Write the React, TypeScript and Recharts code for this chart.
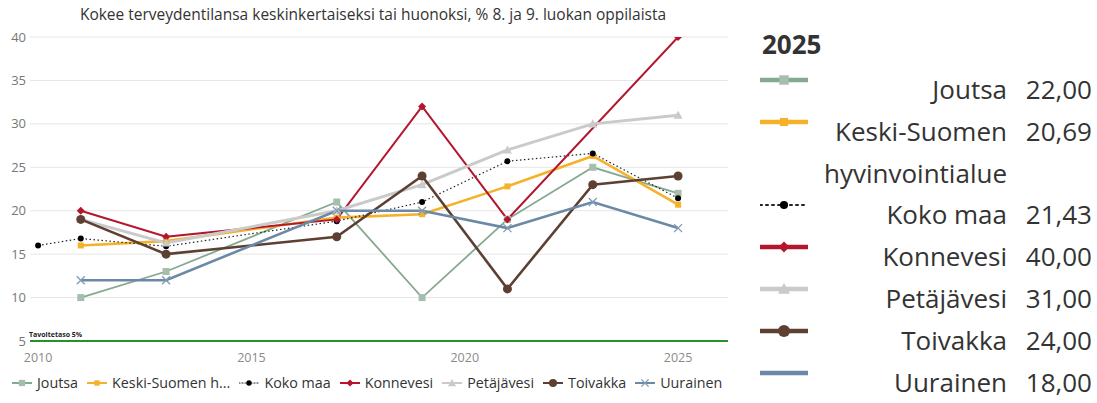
import * as React from "react";
import { LineChart, Line, XAxis, YAxis, CartesianGrid, ReferenceLine } from "recharts";

// vuodet ja sarjat
const YEARS = [2010, 2011, 2013, 2017, 2019, 2021, 2023, 2025];
const JOUTSA = [null, 10, 13, 21, 10, 19, 25, 22];
const KESKI_SUOMI = [null, 16, 16.5, 19.2, 19.6, 22.8, 26.3, 20.69];
const KOKO_MAA = [16, 16.8, 15.9, 18.8, 21, 25.7, 26.6, 21.43];
const KONNEVESI = [null, 20, 17, 19, 32, 19, null, 40];
const PETAJAVESI = [null, 19, 16.3, 20, 23, 27, 30, 31];
const TOIVAKKA = [null, 19, 15, 17, 24, 11, 23, 24];
const UURAINEN = [null, 12, 12, 20, 20, 18, 21, 18];

const X_TICKS = [2010, 2015, 2020, 2025];
const Y_TICKS = [5, 10, 15, 20, 25, 30, 35, 40];
const TITLE = "Kokee terveydentilansa keskinkertaiseksi tai huonoksi, % 8. ja 9. luokan oppilaista";
const TARGET = 5;
const TARGET_LABEL = "Tavoitetaso 5%";
const CARD_YEAR = "2025";

const FONT = "'Open Sans', sans-serif";
const TEXT = "#333333";

type Mark = "square" | "circle" | "diamond" | "triangle" | "cross";

const SERIES: {
  name: string;
  short: string;
  values: (number | null)[];
  color: string;
  markColor: string;
  mark: Mark;
  size: number;
  width: number;
  dash?: string;
}[] = [
  { name: "Joutsa", short: "Joutsa", values: JOUTSA, color: "#86A891", markColor: "#A6BFAD", mark: "square", size: 7, width: 1.8 },
  { name: "Keski-Suomen hyvinvointialue", short: "Keski-Suomen h...", values: KESKI_SUOMI, color: "#F5B12A", markColor: "#F5B12A", mark: "square", size: 6, width: 2.6 },
  { name: "Koko maa", short: "Koko maa", values: KOKO_MAA, color: "#222222", markColor: "#000000", mark: "circle", size: 6, width: 1.2, dash: "1.5 2.5" },
  { name: "Konnevesi", short: "Konnevesi", values: KONNEVESI, color: "#B3172E", markColor: "#B3172E", mark: "diamond", size: 8, width: 2 },
  { name: "Petäjävesi", short: "Petäjävesi", values: PETAJAVESI, color: "#CACACA", markColor: "#CACACA", mark: "triangle", size: 9, width: 3 },
  { name: "Toivakka", short: "Toivakka", values: TOIVAKKA, color: "#5E4033", markColor: "#5E4033", mark: "circle", size: 9, width: 2.6 },
  { name: "Uurainen", short: "Uurainen", values: UURAINEN, color: "#6B89A6", markColor: "#7F9BB5", mark: "cross", size: 8, width: 2.6 },
];

const data = YEARS.map((year, i) => {
  const row: Record<string, number | null> = { year };
  SERIES.forEach((s) => (row[s.name] = s.values[i]));
  return row;
});

function Marker({ mark, x, y, size, color }: { mark: Mark; x: number; y: number; size: number; color: string }) {
  const h = size / 2;
  if (mark === "square") return <rect x={x - h} y={y - h} width={size} height={size} fill={color} />;
  if (mark === "circle") return <circle cx={x} cy={y} r={h} fill={color} />;
  if (mark === "diamond")
    return <polygon points={`${x},${y - h} ${x + h},${y} ${x},${y + h} ${x - h},${y}`} fill={color} />;
  if (mark === "triangle")
    return <polygon points={`${x},${y - h} ${x + h},${y + h * 0.8} ${x - h},${y + h * 0.8}`} fill={color} />;
  return (
    <g stroke={color} strokeWidth={1.3}>
      <line x1={x - h} y1={y - h} x2={x + h} y2={y + h} />
      <line x1={x - h} y1={y + h} x2={x + h} y2={y - h} />
    </g>
  );
}

const makeDot = (s: (typeof SERIES)[number]) => (p: any) => {
  if (p.cx == null || p.cy == null || p.value == null) return <g key={p.key} />;
  return (
    <g key={p.key}>
      <Marker mark={s.mark} x={p.cx} y={p.cy} size={s.size} color={s.markColor} />
    </g>
  );
};

function LegendIcon({ s, w, h, big }: { s: (typeof SERIES)[number]; w: number; h: number; big?: boolean }) {
  const lw = big ? (s.dash ? 2 : 4.5) : s.dash ? 1.2 : 2;
  return (
    <svg width={w} height={h} style={{ display: "block" }}>
      <line
        x1={0}
        y1={h / 2}
        x2={w}
        y2={h / 2}
        stroke={s.color}
        strokeWidth={lw}
        strokeDasharray={s.dash ? (big ? "2 4" : "1 2") : undefined}
        strokeLinecap="round"
      />
      {!(big && s.mark === "cross") && (
        <Marker mark={s.mark} x={w / 2} y={h / 2} size={big ? s.size * 1.35 : s.size * 0.9} color={s.markColor} />
      )}
    </svg>
  );
}

const fmt = (v: number | null) => (v == null ? "" : v.toFixed(2).replace(".", ","));

export default function App() {
  return (
    <div style={{ position: "absolute", left: 0, top: 0, width: 1097, height: 403, background: "#fff", fontFamily: FONT }}>
      <div style={{ position: "absolute", left: 0, top: 3, width: 746, textAlign: "center", fontSize: 15.5, color: TEXT }}>
        {TITLE}
      </div>
      <div style={{ position: "absolute", left: 0, top: 0 }}>
        <LineChart width={740} height={372} data={data} margin={{ top: 37, right: 12, left: 0, bottom: 0 }}>
          <CartesianGrid vertical={false} stroke="#E6E6E6" />
          <XAxis
            dataKey="year"
            type="number"
            domain={[2009.81, 2026.17]}
            ticks={X_TICKS}
            allowDataOverflow
            axisLine={false}
            tickLine={false}
            height={31}
            tickMargin={6}
            tick={{ fontSize: 12.5, fill: "#8A8A8A", fontFamily: FONT }}
          />
          <YAxis
            domain={[5, 40]}
            ticks={Y_TICKS}
            allowDataOverflow
            axisLine={false}
            tickLine={false}
            width={30}
            tickMargin={-2}
            tick={{ fontSize: 13, fill: "#777777", fontFamily: FONT }}
          />
          <ReferenceLine
            y={TARGET}
            stroke="#25922A"
            strokeWidth={2}
            label={{ value: TARGET_LABEL, position: "insideTopLeft", fontSize: 7, fontWeight: 700, fill: "#222", dx: -6, dy: -14 }}
          />
          {SERIES.map((s) => (
            <Line
              key={s.name}
              dataKey={s.name}
              type="linear"
              stroke={s.color}
              strokeWidth={s.width}
              strokeDasharray={s.dash}
              dot={makeDot(s)}
              activeDot={false}
              connectNulls
              isAnimationActive={false}
            />
          ))}
        </LineChart>
      </div>
      <div
        style={{
          position: "absolute",
          left: 12,
          top: 373,
          width: 740,
          display: "flex",
          alignItems: "center",
          fontSize: 14.3,
          color: TEXT,
          whiteSpace: "nowrap",
        }}
      >
        {SERIES.map((s) => (
          <div key={s.name} style={{ display: "flex", alignItems: "center", marginRight: 9 }}>
            <LegendIcon s={s} w={20} h={14} />
            <span style={{ marginLeft: 5 }}>{s.short}</span>
          </div>
        ))}
      </div>
      <div style={{ position: "absolute", left: 762, top: 26, fontSize: 26, fontWeight: 700, color: TEXT, lineHeight: "36px" }}>
        {CARD_YEAR}
      </div>
      <div style={{ position: "absolute", left: 760, top: 69, width: 332 }}>
        {SERIES.map((s) => (
          <div key={s.name} style={{ position: "relative", minHeight: 42 }}>
            <div style={{ position: "absolute", left: 0, top: 0 }}>
              <LegendIcon s={s} w={48} h={22} big />
            </div>
            <div style={{ display: "flex", justifyContent: "flex-end", fontSize: 26, lineHeight: "41.5px", color: TEXT }}>
              <div style={{ width: 195, textAlign: "right" }}>{s.name}</div>
              <div style={{ width: 85, textAlign: "right" }}>{fmt(s.values[s.values.length - 1])}</div>
            </div>
          </div>
        ))}
      </div>
    </div>
  );
}
